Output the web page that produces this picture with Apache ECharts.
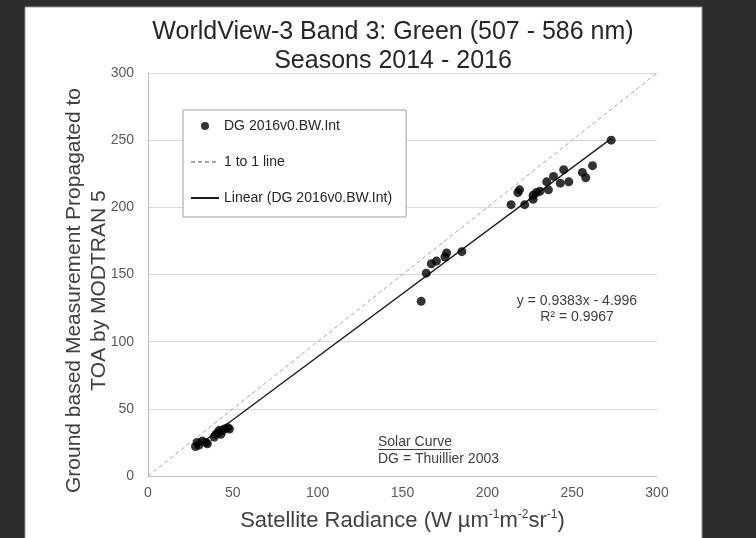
<!DOCTYPE html>
<html>
<head>
<meta charset="utf-8">
<script src="https://cdn.jsdelivr.net/npm/echarts@6/dist/echarts.min.js"></script>
<style>
html, body { margin: 0; padding: 0; background: #2e2d2b; }
#chart { width: 756px; height: 538px; }
</style>
</head>
<body>
<div id="chart"></div>
<script>
// satellite radiance (x) vs ground based TOA (y)
var satRadiance = [28, 29, 30, 32, 34, 35, 39, 40, 41, 42, 43, 44, 45, 47, 48,
    161, 164, 167, 170, 175, 176, 185,
    214, 218, 219, 222, 227, 227, 229, 231, 235, 236, 239, 243, 245, 248, 256, 258, 262, 273];
var groundToa = [22, 25, 23, 26, 25, 24, 29, 31, 32, 34, 31, 34, 35, 36, 35,
    130, 151, 158, 160, 163, 166, 167,
    202, 211, 213, 202, 206, 209, 211, 212, 219, 213, 223, 218, 228, 219, 226, 222, 231, 250];

// fit reported on the chart
var fitSlope = 0.9383;
var fitIntercept = -4.996;
var fitR2 = '0.9967';

var oneToOneX = [0, 300];
var axisTicks = [0, 50, 100, 150, 200, 250, 300];

var font = 'Liberation Sans, Arial, sans-serif';

var points = satRadiance.map(function(x, i) { return [x, groundToa[i]]; });
var xMin = Math.min.apply(null, satRadiance);
var xMax = Math.max.apply(null, satRadiance);
var fitLine = [xMin, xMax].map(function(x) { return [x, fitSlope * x + fitIntercept]; });
var oneToOne = oneToOneX.map(function(x) { return [x, x]; });

var chart = echarts.init(document.getElementById('chart'));

var option = {
    animation: false,
    backgroundColor: '#2e2d2b',
    grid: { left: 148, right: 99, top: 73, bottom: 61 },
    legend: {
        orient: 'vertical',
        left: 183,
        top: 110,
        padding: [8, 14, 11, 7],
        itemGap: 20,
        itemWidth: 28,
        itemHeight: 8,
        itemTextGap: 3,
        borderColor: '#a0a0a0',
        borderWidth: 1,
        backgroundColor: '#fff',
        textStyle: { fontFamily: font, fontSize: 14, color: '#262626', lineHeight: 16 },
        data: [
            { name: 'DG 2016v0.BW.Int' },
            { name: '1 to 1 line', itemStyle: { opacity: 0 } },
            { name: 'Linear (DG 2016v0.BW.Int)', itemStyle: { opacity: 0 } }
        ]
    },
    xAxis: {
        type: 'value',
        min: axisTicks[0],
        max: axisTicks[axisTicks.length - 1],
        interval: 50,
        axisLine: { show: true, lineStyle: { color: '#bfbfbf' } },
        axisTick: { show: false },
        splitLine: { show: false },
        axisLabel: { fontFamily: font, fontSize: 14, color: '#595959', margin: 10 },
        name: 'Satellite Radiance (W µm{s|-1}m{s|-2}sr{s|-1})',
        nameLocation: 'middle',
        nameGap: 33,
        nameMoveOverlap: false,
        nameTextStyle: {
            fontFamily: font, fontSize: 22, color: '#404040', lineHeight: 24,
            rich: { s: { fontFamily: font, fontSize: 12, color: '#404040', verticalAlign: 'top', lineHeight: 13 } }
        }
    },
    yAxis: {
        type: 'value',
        min: axisTicks[0],
        max: axisTicks[axisTicks.length - 1],
        interval: 50,
        axisLine: { show: true, lineStyle: { color: '#bfbfbf' } },
        axisTick: { show: false },
        splitLine: { show: true, lineStyle: { color: '#d9d9d9' } },
        axisLabel: { fontFamily: font, fontSize: 14, color: '#595959', margin: 14 },
        name: 'Ground based Measurement Propagated to\nTOA by MODTRAN 5',
        nameLocation: 'middle',
        nameRotate: 90,
        nameGap: 36,
        nameMoveOverlap: false,
        nameTextStyle: { fontFamily: font, fontSize: 21, color: '#404040', lineHeight: 25, padding: [0, 32, 0, 0] }
    },
    series: [
        {
            name: '1 to 1 line',
            type: 'line',
            data: oneToOne,
            symbol: 'none',
            lineStyle: { color: '#a6a6a6', width: 1, type: [4, 3] },
            itemStyle: { color: '#a6a6a6' },
            z: 2
        },
        {
            name: 'Linear (DG 2016v0.BW.Int)',
            type: 'line',
            data: fitLine,
            symbol: 'none',
            lineStyle: { color: '#1a1a1a', width: 1.3 },
            itemStyle: { color: '#1a1a1a' },
            z: 3
        },
        {
            name: 'DG 2016v0.BW.Int',
            type: 'scatter',
            data: points,
            symbol: 'circle',
            symbolSize: 9,
            itemStyle: { color: '#000' },
            z: 4
        }
    ],
    graphic: [
        {
            type: 'rect', z: -10, silent: true,
            shape: { x: 25, y: 7, width: 677, height: 540 },
            style: { fill: '#fff', stroke: '#9a9a9a', lineWidth: 1 }
        },
        {
            type: 'text', x: 393, y: 18, z: 10,
            style: {
                text: 'WorldView-3 Band 3: Green (507 - 586 nm)\nSeasons 2014 - 2016',
                font: '25px ' + font, fill: '#262626', textAlign: 'center', lineHeight: 29
            }
        },
        {
            type: 'text', x: 577, y: 293, z: 10,
            style: {
                text: 'y = ' + fitSlope + 'x - ' + Math.abs(fitIntercept) + '\nR² = ' + fitR2,
                font: '14px ' + font, fill: '#404040', textAlign: 'center', lineHeight: 16
            }
        },
        {
            type: 'text', x: 378, y: 434, z: 10,
            style: {
                text: 'Solar Curve\nDG = Thuillier 2003',
                font: '14px ' + font, fill: '#404040', textAlign: 'left', lineHeight: 17
            }
        },
        {
            type: 'line', z: 10, silent: true,
            shape: { x1: 378, y1: 449.5, x2: 451, y2: 449.5 },
            style: { stroke: '#404040', lineWidth: 1 }
        }
    ]
};

chart.setOption(option);
</script>
</body>
</html>
